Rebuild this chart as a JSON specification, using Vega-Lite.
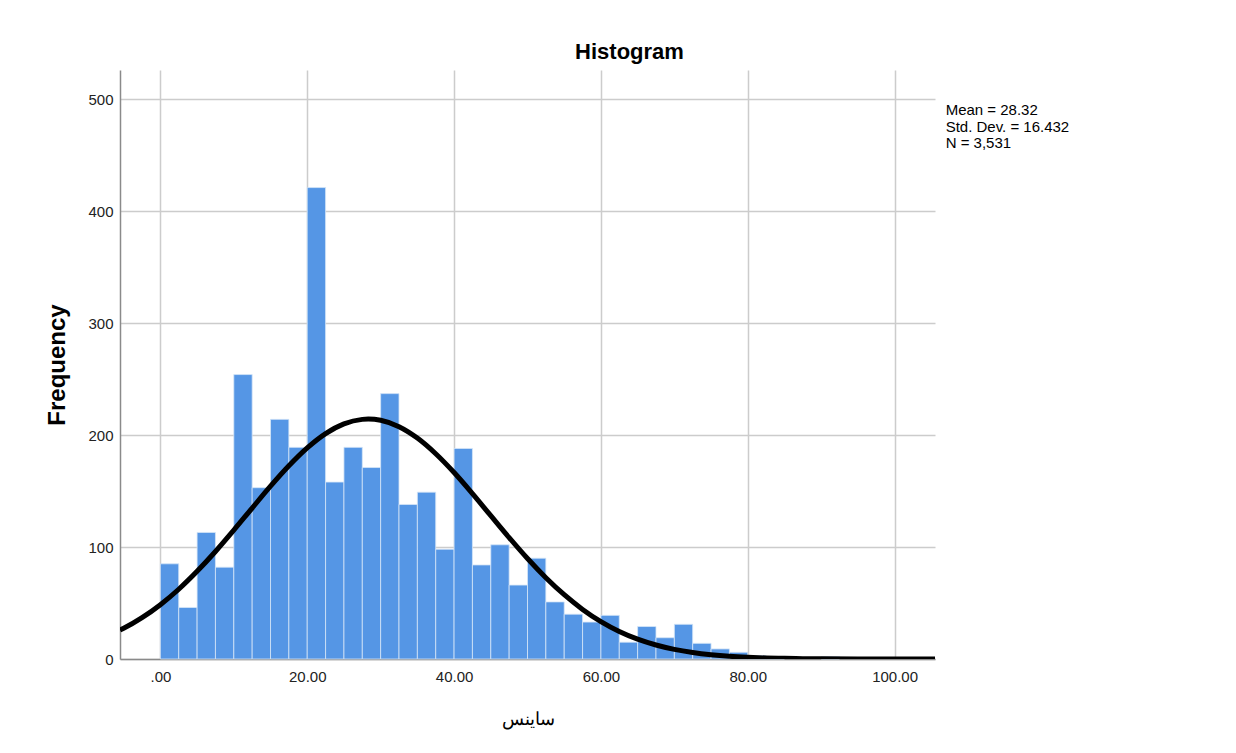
{
  "$schema": "https://vega.github.io/schema/vega-lite/v6.json",
  "width": 815,
  "height": 589,
  "autosize": {"type": "none"},
  "padding": {"left": 120, "top": 70, "right": 301, "bottom": 94},
  "background": "white",
  "config": {
    "font": "Liberation Sans",
    "view": {"stroke": null},
    "axis": {"gridColor": "#cccccc", "gridWidth": 1.5, "domainColor": "#8a8a8a", "domainWidth": 1.5, "ticks": false, "labelFont": "Liberation Sans", "labelFontSize": 15, "labelColor": "#222222", "titleFont": "Liberation Sans", "titleColor": "#000000"}
  },
  "title": {"text": "Histogram", "fontSize": 22, "fontWeight": "bold", "font": "Liberation Sans", "anchor": "middle", "dx": 102, "offset": 6, "color": "#000000"},
  "datasets": {
    "bins": [
      {"start": 0, "end": 2.5, "count": 85},
      {"start": 2.5, "end": 5, "count": 46},
      {"start": 5, "end": 7.5, "count": 113},
      {"start": 7.5, "end": 10, "count": 82},
      {"start": 10, "end": 12.5, "count": 254},
      {"start": 12.5, "end": 15, "count": 153},
      {"start": 15, "end": 17.5, "count": 214},
      {"start": 17.5, "end": 20, "count": 189},
      {"start": 20, "end": 22.5, "count": 421},
      {"start": 22.5, "end": 25, "count": 158},
      {"start": 25, "end": 27.5, "count": 189},
      {"start": 27.5, "end": 30, "count": 171},
      {"start": 30, "end": 32.5, "count": 237},
      {"start": 32.5, "end": 35, "count": 138},
      {"start": 35, "end": 37.5, "count": 149},
      {"start": 37.5, "end": 40, "count": 98},
      {"start": 40, "end": 42.5, "count": 188},
      {"start": 42.5, "end": 45, "count": 84},
      {"start": 45, "end": 47.5, "count": 102},
      {"start": 47.5, "end": 50, "count": 66},
      {"start": 50, "end": 52.5, "count": 90},
      {"start": 52.5, "end": 55, "count": 51},
      {"start": 55, "end": 57.5, "count": 40},
      {"start": 57.5, "end": 60, "count": 33},
      {"start": 60, "end": 62.5, "count": 39},
      {"start": 62.5, "end": 65, "count": 15},
      {"start": 65, "end": 67.5, "count": 29},
      {"start": 67.5, "end": 70, "count": 19},
      {"start": 70, "end": 72.5, "count": 31},
      {"start": 72.5, "end": 75, "count": 14},
      {"start": 75, "end": 77.5, "count": 9},
      {"start": 77.5, "end": 80, "count": 6},
      {"start": 80, "end": 82.5, "count": 3},
      {"start": 82.5, "end": 85, "count": 1},
      {"start": 90, "end": 92.5, "count": 2}
    ],
    "curve": [
      {"x": -5.5, "y": 25.8}, {"x": -5, "y": 27.4}, {"x": -2.5, "y": 36.9}, {"x": 0, "y": 48.5},
      {"x": 2.5, "y": 62.3}, {"x": 5, "y": 78.3}, {"x": 7.5, "y": 96.0}, {"x": 10, "y": 115.1},
      {"x": 12.5, "y": 134.8}, {"x": 15, "y": 154.3}, {"x": 17.5, "y": 172.5}, {"x": 20, "y": 188.5},
      {"x": 22.5, "y": 201.3}, {"x": 25, "y": 210.0}, {"x": 27.5, "y": 214.0}, {"x": 28.32, "y": 214.3},
      {"x": 30, "y": 213.2}, {"x": 32.5, "y": 207.5}, {"x": 35, "y": 197.3}, {"x": 37.5, "y": 183.3},
      {"x": 40, "y": 166.5}, {"x": 42.5, "y": 147.7}, {"x": 45, "y": 128.0}, {"x": 47.5, "y": 108.4},
      {"x": 50, "y": 89.7}, {"x": 52.5, "y": 72.6}, {"x": 55, "y": 57.4}, {"x": 57.5, "y": 44.3},
      {"x": 60, "y": 33.4}, {"x": 62.5, "y": 24.6}, {"x": 65, "y": 17.7}, {"x": 67.5, "y": 12.5},
      {"x": 70, "y": 8.6}, {"x": 72.5, "y": 5.8}, {"x": 75, "y": 3.8}, {"x": 77.5, "y": 2.4},
      {"x": 80, "y": 1.5}, {"x": 82.5, "y": 0.9}, {"x": 85, "y": 0.56}, {"x": 87.5, "y": 0.32},
      {"x": 90, "y": 0.18}, {"x": 95, "y": 0.05}, {"x": 100, "y": 0.01}, {"x": 105.5, "y": 0}
    ],
    "stats": [
      {"label": "Mean = 28.32\nStd. Dev. = 16.432\nN = 3,531", "sx": 106.95, "sy": 496.5}
    ]
  },
  "layer": [
    {
      "data": {"name": "bins"},
      "mark": {"type": "rect", "color": "#5596e5", "stroke": "#d6e6f8", "strokeWidth": 0.8},
      "encoding": {
        "x": {"field": "start", "type": "quantitative", "scale": {"domain": [-5.5, 105.5], "nice": false, "zero": false},
          "axis": {"values": [0, 20, 40, 60, 80, 100], "labelExpr": "datum.value == 0 ? '.00' : format(datum.value, '.2f')", "labelPadding": 10, "title": "ساينس", "titleFontSize": 18, "titleFontWeight": "normal", "titlePadding": 26, "grid": true}},
        "x2": {"field": "end"},
        "y": {"field": "count", "type": "quantitative", "scale": {"domain": [0, 526], "nice": false},
          "axis": {"values": [0, 100, 200, 300, 400, 500], "labelPadding": 7, "title": "Frequency", "titleFontSize": 24, "titleFontWeight": "bold", "titlePadding": 18, "grid": true}},
        "y2": {"datum": 0}
      }
    },
    {
      "data": {"name": "curve"},
      "mark": {"type": "line", "color": "#000000", "strokeWidth": 5, "interpolate": "monotone", "clip": true},
      "encoding": {
        "x": {"field": "x", "type": "quantitative"},
        "y": {"field": "y", "type": "quantitative"}
      }
    },
    {
      "data": {"name": "stats"},
      "mark": {"type": "text", "align": "left", "baseline": "top", "lineBreak": "\n", "lineHeight": 16.5, "fontSize": 15, "font": "Liberation Sans", "color": "#000000"},
      "encoding": {
        "x": {"field": "sx", "type": "quantitative"},
        "y": {"field": "sy", "type": "quantitative"},
        "text": {"field": "label"}
      }
    }
  ]
}
